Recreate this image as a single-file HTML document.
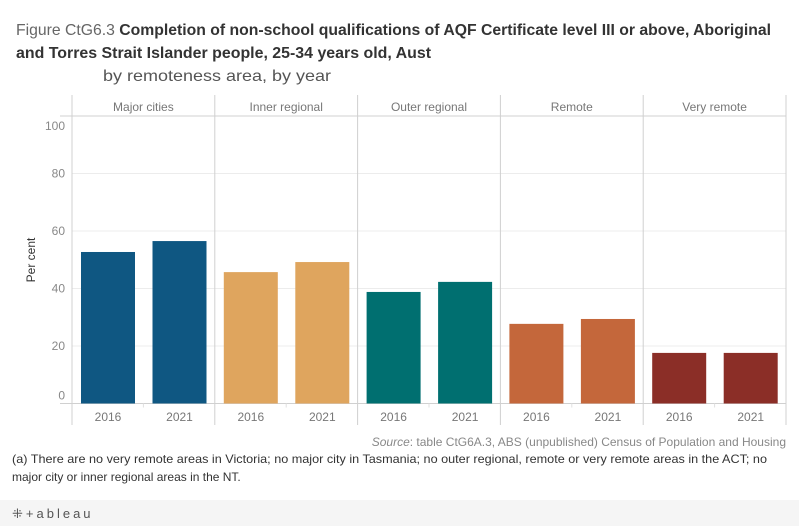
<!DOCTYPE html>
<html><head><meta charset="utf-8"><style>
html,body{margin:0;padding:0;background:#fff;}
svg{display:block;font-family:"Liberation Sans",sans-serif;}
</style></head><body>
<svg id="chart" width="799" height="526" viewBox="0 0 799 526" xmlns="http://www.w3.org/2000/svg">
<g>
<text x="16" y="35" font-size="16" textLength="755" lengthAdjust="spacingAndGlyphs"><tspan fill="#666">Figure CtG6.3 </tspan><tspan fill="#333" font-weight="bold">Completion of non-school qualifications of AQF Certificate level III or above, Aboriginal</tspan></text>
<text x="16" y="58" font-size="16" fill="#333" font-weight="bold" textLength="415" lengthAdjust="spacingAndGlyphs">and Torres Strait Islander people, 25-34 years old, Aust</text>
<text x="103" y="81" font-size="16" fill="#555" textLength="228" lengthAdjust="spacingAndGlyphs">by remoteness area, by year</text>
</g>
<g id="grid"></g>
<g id="panels"></g>
<g id="bars"></g>
<g id="yaxis"></g>
<text x="0" y="0" transform="translate(35,260) rotate(-90)" text-anchor="middle" font-size="12" fill="#333">Per cent</text>
<text x="786" y="446" text-anchor="end" font-size="12" fill="#888"><tspan font-style="italic">Source</tspan>: table CtG6A.3, ABS (unpublished) Census of Population and Housing</text>
<text x="12" y="463" font-size="12" fill="#333" textLength="755" lengthAdjust="spacingAndGlyphs">(a) There are no very remote areas in Victoria; no major city in Tasmania; no outer regional, remote or very remote areas in the ACT; no</text>
<text x="12" y="481" font-size="12" fill="#333">major city or inner regional areas in the NT.</text>
<rect x="0" y="500" width="799" height="26" fill="#f5f5f5"/>
<text x="12" y="518" font-size="13" fill="#555" letter-spacing="3">⁜+ableau</text>
</svg>
<script>
const regions = ["Major cities","Inner regional","Outer regional","Remote","Very remote"];
const years = ["2016","2021"];
const values2016 = [52.7, 45.7, 38.8, 27.7, 17.6];
const values2021 = [56.5, 49.2, 42.3, 29.4, 17.6];
const yTicks = [0,20,40,60,80,100];
const colors = ["#0f5782","#dfa55e","#006f70","#c4673b","#8b2e27"];

const NS="http://www.w3.org/2000/svg";
const left=72, panelW=142.8, top0=116, base=403.5, scale=2.875;
function y(v){return base - v*scale;}
function px(i){return left + i*panelW;}
function el(tag, attrs, parent){const e=document.createElementNS(NS,tag);for(const k in attrs)e.setAttribute(k,attrs[k]);parent.appendChild(e);return e;}
const grid=document.getElementById('grid'), panels=document.getElementById('panels'), bars=document.getElementById('bars'), yaxis=document.getElementById('yaxis');
const right=px(regions.length);
yTicks.forEach(t=>{
  if(t>0 && t<100){
    const g=el('line',{x1:left,x2:right,y1:y(t),y2:y(t),stroke:'#ececec','stroke-width':1},grid);
    
    
  }
  let ly=y(t)+4; if(t===100) ly=y(t)+14; if(t===0) ly=y(t)-4;
  const tx=el('text',{x:65,y:ly,'text-anchor':'end','font-size':12,fill:'#888'},yaxis);
  tx.textContent=t;
  
  
});
el('line',{x1:60,x2:right,y1:top0,y2:top0,stroke:'#d0d0d0'},panels);
el('line',{x1:60,x2:right,y1:base,y2:base,stroke:'#d0d0d0'},panels);
for(let i=0;i<=regions.length;i++){
  const l=el('line',{x1:px(i),x2:px(i),y1:95,y2:425,stroke:'#d0d0d0'},panels);
  
  
}
regions.forEach((r,i)=>{
  const h=el('text',{x:px(i)+panelW/2,y:111,'text-anchor':'middle','font-size':12,fill:'#777'},panels);
  h.textContent=r;
  
  
  el('line',{x1:px(i)+panelW/2,x2:px(i)+panelW/2,y1:base,y2:base+4,stroke:'#e0e0e0'},panels);
  [values2016[i],values2021[i]].forEach((v,j)=>{
    const bx=px(i)+9+j*71.5;
    const b=el('rect',{x:bx,y:y(v),width:54,height:base-y(v),fill:colors[i]},bars);
    
    
    const t=el('text',{x:bx+27,y:421,'text-anchor':'middle','font-size':12,fill:'#777'},bars);
    t.textContent=years[j];
    
    
  });
});
</script>
</body></html>
